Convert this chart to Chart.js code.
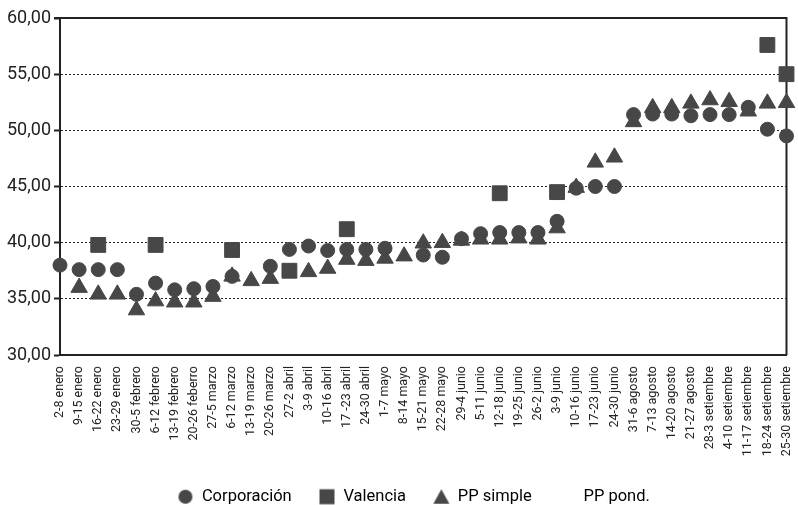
<!DOCTYPE html>
<html>
<head>
<meta charset="utf-8">
<title>Precios semanales</title>
<script src="https://cdn.jsdelivr.net/npm/chart.js@4.4.1/dist/chart.umd.min.js"></script>
<style>
  body { margin: 0; background: #fff; }
  #chart { display: block; }
</style>
</head>
<body>
<canvas id="chart" width="798" height="505"></canvas>
<script>
// weeks on the x axis
const weeks = ['2-8 enero', '9-15 enero', '16-22 enero', '23-29 enero', '30-5 febrero', '6-12 febrero',
  '13-19 febrero', '20-26 feberro', '27-5 marzo', '6-12 marzo', '13-19 marzo', '20-26 marzo',
  '27-2 abril', '3-9 abril', '10-16 abril', '17 -23 abril', '24-30 abril', '1-7 mayo', '8-14 mayo',
  '15-21 mayo', '22-28 mayo', '29-4 junio', '5-11 junio', '12-18 junio', '19-25 junio', '26-2 junio',
  '3-9 junio', '10-16 junio', '17-23 junio', '24-30 junio', '31-6 agosto', '7-13 agosto',
  '14-20 agosto', '21-27 agosto', '28-3 setiembre', '4-10 setiembre', '11-17 setiembre',
  '18-24 setiembre', '25-30 setiembre'];

const corporacion = [38.0, 37.6, 37.6, 37.6, 35.4, 36.4, 35.8, 35.9, 36.1, 37.0, null, 37.9,
  39.4, 39.7, 39.3, 39.4, 39.4, 39.5, null, 38.9, 38.7, 40.35, 40.8, 40.9, 40.9, 40.9,
  41.9, 44.85, 45.0, 45.0, 51.4, 51.45, 51.45, 51.3, 51.4, 51.4, 52.05, 50.1, 49.5];

const valencia = [null, null, 39.8, null, null, 39.8, null, null, null, 39.35, null, null,
  37.5, null, null, 41.2, null, null, null, null, null, null, null, 44.4, null, null,
  44.5, null, null, null, null, null, null, null, null, null, null, 57.6, 55.0];

const ppSimple = [null, 36.0, 35.4, 35.4, 34.0, 34.8, 34.7, 34.7, 35.2, 37.0, 36.6, 36.8,
  null, 37.4, 37.7, 38.5, 38.4, 38.6, 38.8, 39.95, 40.0, 40.2, 40.3, 40.3, 40.4, 40.3,
  41.3, 44.9, 47.15, 47.6, 50.75, 52.0, 52.0, 52.4, 52.7, 52.55, 51.7, 52.4, 52.45];

const ppPond = [];

const yMin = 30, yMax = 60, yStep = 5;

const ink = '#474747';
const font = "Roboto, 'Liberation Sans', sans-serif";

// small icons for the legend
function icon(kind) {
  const c = document.createElement('canvas');
  c.width = 18; c.height = 18;
  const g = c.getContext('2d');
  g.fillStyle = ink;
  if (kind === 'circle') { g.beginPath(); g.arc(9, 9, 7, 0, Math.PI * 2); g.fill(); }
  if (kind === 'rect') { g.fillRect(1.5, 1.5, 15, 15); }
  if (kind === 'triangle') { g.beginPath(); g.moveTo(9, 1.5); g.lineTo(17, 16); g.lineTo(1, 16); g.closePath(); g.fill(); }
  return c;
}
const icons = [icon('circle'), icon('rect'), icon('triangle'), icon('none')];

const frame = {
  id: 'frame',
  afterUpdate(chart) {
    // nudge the legend row a bit to the right, like the printed one
    chart.legend.left += 14;
    chart.legend.right += 14;
  },
  beforeDatasetsDraw(chart) {
    const a = chart.chartArea, ctx = chart.ctx;
    ctx.save();
    ctx.strokeStyle = '#222';
    ctx.lineWidth = 2;
    ctx.beginPath();
    ctx.moveTo(a.left - 6, a.top);
    ctx.lineTo(a.right, a.top);
    ctx.lineTo(a.right, a.bottom);
    ctx.stroke();
    ctx.restore();
  }
};

function pts(label, data, style, r) {
  return {
    label: label, data: data, showLine: false, clip: false,
    pointStyle: style, pointRadius: r, pointHoverRadius: r,
    pointBackgroundColor: ink, pointBorderColor: ink, pointBorderWidth: 1,
    borderColor: ink, backgroundColor: ink
  };
}

new Chart(document.getElementById('chart'), {
  type: 'line',
  data: {
    labels: weeks,
    datasets: [
      pts('Corporación', corporacion, 'circle', 7),
      pts('Valencia', valencia, 'rect', 10.5),
      pts('PP simple', ppSimple, 'triangle', 9.5),
      pts('PP pond.', ppPond, 'circle', 0)
    ]
  },
  options: {
    responsive: false,
    animation: false,
    layout: { padding: { top: 18, right: 1, left: 2, bottom: -10 } },
    plugins: {
      tooltip: { enabled: false },
      legend: {
        position: 'bottom',
        labels: {
          usePointStyle: true,
          padding: 27,
          color: '#222',
          font: { family: font, size: 16.5 },
          generateLabels(chart) {
            return chart.data.datasets.map((ds, i) => ({
              text: ds.label, pointStyle: icons[i], fillStyle: ink,
              strokeStyle: ink, lineWidth: 0, hidden: false, datasetIndex: i
            }));
          }
        }
      }
    },
    scales: {
      x: {
        offset: false,
        grid: { display: false },
        border: { color: '#222', width: 2 },
        ticks: {
          autoSkip: false, minRotation: 90, maxRotation: 90, padding: 3,
          color: '#222', font: { family: font, size: 12.5 }
        },
        afterFit(s) {
          s.height = 160 - (s.chart.legend ? s.chart.legend.height : 53);
          s.paddingLeft = 0;
          s.paddingRight = 0;
        }
      },
      y: {
        min: yMin, max: yMax,
        ticks: {
          stepSize: yStep, padding: 3, color: '#222',
          font: { family: font, size: 18 },
          callback: v => v.toFixed(2).replace('.', ',')
        },
        grid: {
          color: c => (c.tick && (c.tick.value === yMin || c.tick.value === yMax)) ? 'rgba(0,0,0,0)' : '#222',
          tickColor: '#222', tickLength: 6, tickWidth: 2, tickBorderDash: []
        },
        border: { color: '#222', width: 2, dash: [2, 2] },
        afterFit(s) {
          s.width = 58;
          s.paddingTop = 0;
          s.paddingBottom = 0;
        }
      }
    }
  },
  plugins: [frame]
});
</script>
</body>
</html>
